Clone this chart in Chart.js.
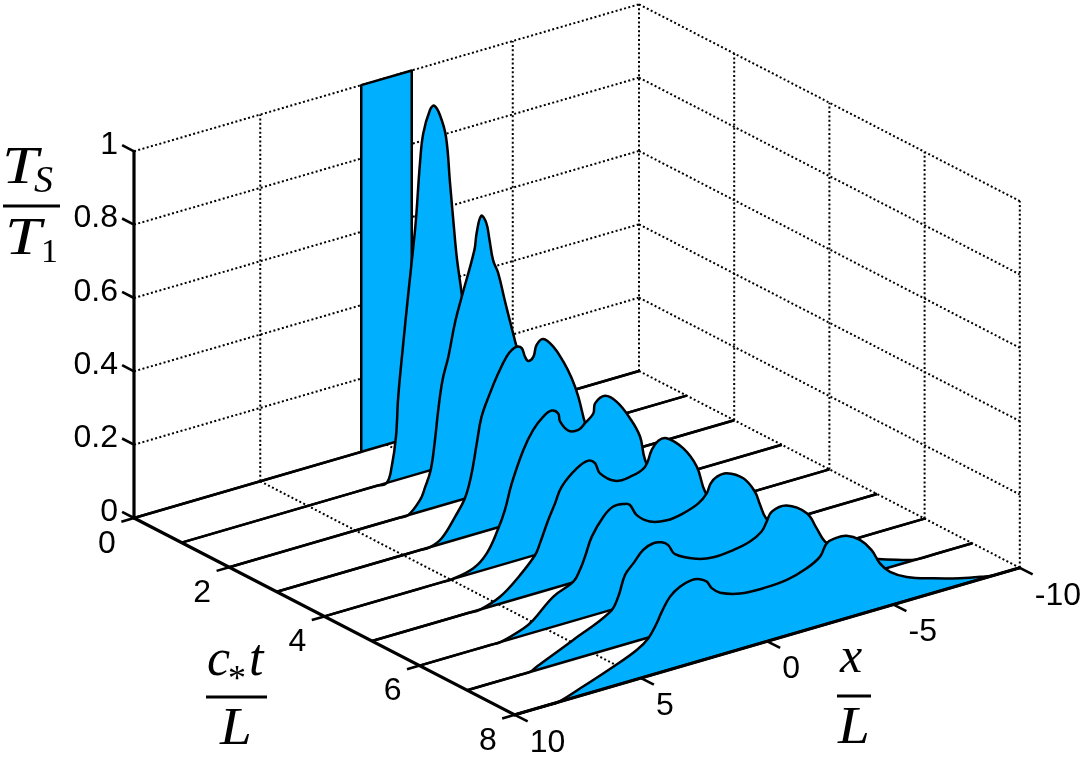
<!DOCTYPE html>
<html><head><meta charset="utf-8">
<style>html,body{margin:0;padding:0;background:#fff}canvas{display:block}</style>
<script src="https://cdn.jsdelivr.net/npm/chart.js@4"></script>
</head><body><canvas id="c" width="1088" height="766"></canvas>
<script>
// Slice positions (c*t/L) and profile readings: x/L and T_S/T_1
const sliceTimes=[0,1,2,3,4,5,6,7,8];
const x0=[10,1,1,-1,-1,-10];
const T0=[0,0,1,1,0,0];
const x1=[10,3.2,2.3,1.88,1.68,1.51,1.42,1.22,1.02,.85,.72,.56,.43,.16,0,-.23,-.47,-.63,-.83,-.91,-1.09,-1.3,-1.5,-1.7,-1.9,-2.2,-3,-10];
const T1=[0,0,0,0,.04,.119,.226,.368,.5,.606,.694,.845,.924,.983,.991,.961,.897,.768,.608,.552,.458,.33,.2,.1,.03,0,0,0];
const x2=[10,4.2,3.3,2.91,2.44,2.25,2.02,1.85,1.72,1.55,1.32,1.06,.79,.29,.2,.02,-.18,-.3,-.45,-.65,-.91,-1.11,-1.31,-1.38,-1.6,-1.9,-2.2,-2.5,-2.9,-3.3,-4.2,-10];
const T2=[0,0,0,0,.032,.061,.105,.184,.263,.341,.4,.487,.553,.67,.715,.758,.735,.69,.628,.589,.51,.451,.393,.373,.3,.2,.11,.05,.01,0,0,0];
const x3=[10,5.3,4.4,3.93,3.47,2.94,2.55,2.31,2.08,1.89,1.56,1.23,.9,.69,.5,.3,.17,.04,-.16,-.29,-.55,-.95,-1.35,-1.68,-1.94,-2.21,-2.6,-3,-3.5,-4,-4.5,-5.5,-10];
const T3=[0,0,0,0,.015,.063,.106,.16,.246,.315,.372,.42,.459,.473,.478,.47,.444,.43,.437,.467,.478,.449,.4,.348,.293,.215,.13,.07,.03,.01,0,0,0];
const x4=[10,6.3,5.4,4.96,4.1,3.57,3.11,2.85,2.58,2.12,1.73,1.33,1,.74,.67,.34,-.06,-.32,-.65,-.72,-1.11,-1.58,-2.1,-2.5,-2.7,-3.1,-3.6,-4.2,-5,-5.6,-6.5,-10];
const T4=[0,0,0,0,.013,.043,.102,.147,.214,.296,.343,.371,.381,.368,.345,.313,.307,.32,.34,.366,.379,.353,.298,.24,.172,.115,.07,.035,.01,0,0,0];
const x5=[10,7,6.2,5.72,4.93,4.14,3.54,3.35,3.02,2.75,2.49,1.89,1.43,1.17,.97,.38,-.22,-.81,-1.08,-1.34,-1.67,-2.33,-2.86,-3.19,-3.6,-4.2,-5,-6,-7,-8,-10];
const T5=[0,0,0,0,.019,.062,.105,.133,.19,.23,.27,.308,.32,.308,.276,.244,.243,.258,.299,.319,.319,.278,.218,.143,.1,.06,.03,.01,0,0,0];
const x6=[10,8,7.2,6.8,5.89,5.5,4.7,3.91,3.65,3.45,3.18,2.72,2.33,1.87,1.67,1.4,.88,.21,-.44,-1.04,-1.37,-1.53,-1.77,-2.16,-2.82,-3.28,-3.48,-3.72,-4.2,-5,-6,-7,-7.5,-10];
const T6=[0,0,0,0,.019,.034,.082,.107,.134,.166,.215,.26,.28,.278,.271,.238,.21,.2,.206,.221,.242,.266,.279,.281,.254,.208,.169,.127,.09,.05,.015,0,0,0];
const x7=[10,8.6,7.9,7.51,7.25,5.8,4.34,4.02,3.75,3.42,3.03,2.63,2.3,2.04,1.77,.91,.25,-.54,-1.2,-1.66,-1.86,-2.06,-2.65,-3.45,-3.84,-4.17,-4.6,-5.5,-6.27,-7,-7.8,-8.6,-10];
const T7=[0,0,0,0,.009,.053,.1,.135,.189,.214,.243,.253,.249,.236,.206,.176,.167,.171,.181,.199,.222,.245,.25,.213,.164,.121,.095,.055,.032,.015,0,0,0];
const x8=[10,9.3,8.7,8.3,7.42,6.1,5.17,4.71,4.38,4.18,3.85,3.46,3,2.67,2.4,2.2,1.87,1.08,.16,-.77,-1.56,-2.09,-2.35,-2.68,-3.14,-3.67,-4.13,-4.46,-4.86,-5.52,-6.57,-7.63,-8.55,-9,-9.5,-10];
const T8=[0,0,0,0,.02,.053,.08,.103,.137,.164,.199,.218,.227,.223,.211,.189,.17,.152,.148,.152,.168,.189,.22,.227,.225,.203,.166,.123,.092,.065,.04,.019,.005,0,0,0];
const sliceX=[x0,x1,x2,x3,x4,x5,x6,x7,x8];
const sliceT=[T0,T1,T2,T3,T4,T5,T6,T7,T8];

const xTicks=[10,5,0,-5,-10];
const tTicks=[0,2,4,6,8];
const zTicks=[0,0.2,0.4,0.6,0.8,1];
const xRange=[10,-10];

// orthographic view of the 3-D box
const view={ox:134,oy:518,tx:47.6,ty:24.6,ux:25.25,uy:-7.35,z:366.7};
const P=(x,t,z)=>{const u=10-x;return {x:view.ox+view.tx*t+view.ux*u,y:view.oy+view.ty*t+view.uy*u-view.z*z};};

const BLUE='#00b0ff';
const datasets=[];
let ord=1000;
function line(points,o){datasets.push(Object.assign({data:points,showLine:true,pointRadius:0,borderColor:'#000',borderWidth:2.5,fill:false,tension:0,clip:false,order:ord--},o));}
const dotted={borderWidth:2,borderDash:[2,2.4],borderCapStyle:'butt'};

// dotted grid: walls and floor
zTicks.forEach(z=>{ if(z>0) line([P(10,0,z),P(-10,0,z)],dotted); line([P(-10,0,z),P(-10,8,z)],dotted);});
xTicks.slice(1).forEach(x=>line([P(x,0,0),P(x,0,1)],dotted));
tTicks.slice(1).forEach(t=>line([P(-10,t,0),P(-10,t,1)],dotted));
xTicks.slice(1,4).forEach(x=>line([P(x,0,0),P(x,8,0)],dotted));

// waterfall slices, back to front
sliceTimes.forEach((t,i)=>{
  const pts=sliceX[i].map((x,k)=>P(x,t,sliceT[i][k]));
  line(pts,{fill:'shape',backgroundColor:BLUE,tension:i===0?0:0.4,borderJoinStyle:'round'});
  line([P(xRange[0],t,0),P(xRange[1],t,0)],{});
});

// solid axes and ticks
const axis={borderWidth:3.2,borderCapStyle:'round'};
const tick={borderWidth:2.6};
line([P(10,0,0),P(10,0,1)],axis);
line([P(10,0,0),P(10,8,0)],axis);
line([P(10,8,0),P(-10,8,0)],axis);
zTicks.forEach(z=>line([P(10,0,z),P(10,-0.25,z)],tick));
tTicks.forEach(t=>line([P(10,t,0),P(10.5,t,0)],tick));
xTicks.forEach(x=>line([P(x,8,0),P(x,8.27,0)],tick));

const textPlugin={id:'labels',afterDraw(ch){
  const c=ch.ctx,sx=ch.scales.x,sy=ch.scales.y;
  const X=v=>sx.getPixelForValue(v),Y=v=>sy.getPixelForValue(v);
  c.save();c.fillStyle='#000';c.textBaseline='middle';
  c.font='32px "Liberation Sans"';
  c.textAlign='right';
  zTicks.forEach(z=>{const p=P(10,0,z);c.fillText(String(z),X(p.x)-16,Y(p.y)-6);});
  c.textAlign='center';
  tTicks.forEach(t=>{const p=P(10,t,0);c.fillText(String(t),X(p.x)-27,Y(p.y)+26);});
  c.textAlign='left';
  xTicks.forEach(x=>{const p=P(x,8,0);c.fillText(String(x),X(p.x)+15,Y(p.y)+28);});
  // axis titles
  c.textBaseline='alphabetic';
  const it=s=>`italic ${s}px "Liberation Serif"`, ro=s=>`${s}px "Liberation Serif"`;
  const wide=(s,x,y,k)=>{c.save();c.translate(x,y);c.scale(k,1);c.fillText(s,0,0);c.restore();};
  c.font=it(52);wide('T',2,183,1.25);
  c.font=it(38);c.fillText('S',34,192);
  c.font=it(52);wide('T',5,254,1.25);
  c.font=ro(34);c.fillText('1',41,262);
  c.font=it(52);c.fillText('c',207,675);
  c.font=ro(36);c.fillText('*',228,690);
  c.font=it(52);c.fillText('t',249,675);
  c.font=it(52);wide('L',220,744,1.1);
  c.font=it(50);c.fillText('x',840,672);
  c.font=it(52);wide('L',838,743,1.1);
  c.fillRect(3,204.5,57,3);
  c.fillRect(206,695.5,61,3);
  c.fillRect(837,694.5,34,3);
  c.restore();
}};

new Chart(document.getElementById('c'),{
  type:'scatter',
  data:{datasets},
  options:{responsive:false,animation:false,devicePixelRatio:1,
    layout:{padding:0},
    plugins:{legend:{display:false},tooltip:{enabled:false},title:{display:false}},
    scales:{x:{type:'linear',min:0,max:1088,display:false},y:{type:'linear',min:0,max:766,reverse:true,display:false}}
  },
  plugins:[textPlugin]
});
</script></body></html>
